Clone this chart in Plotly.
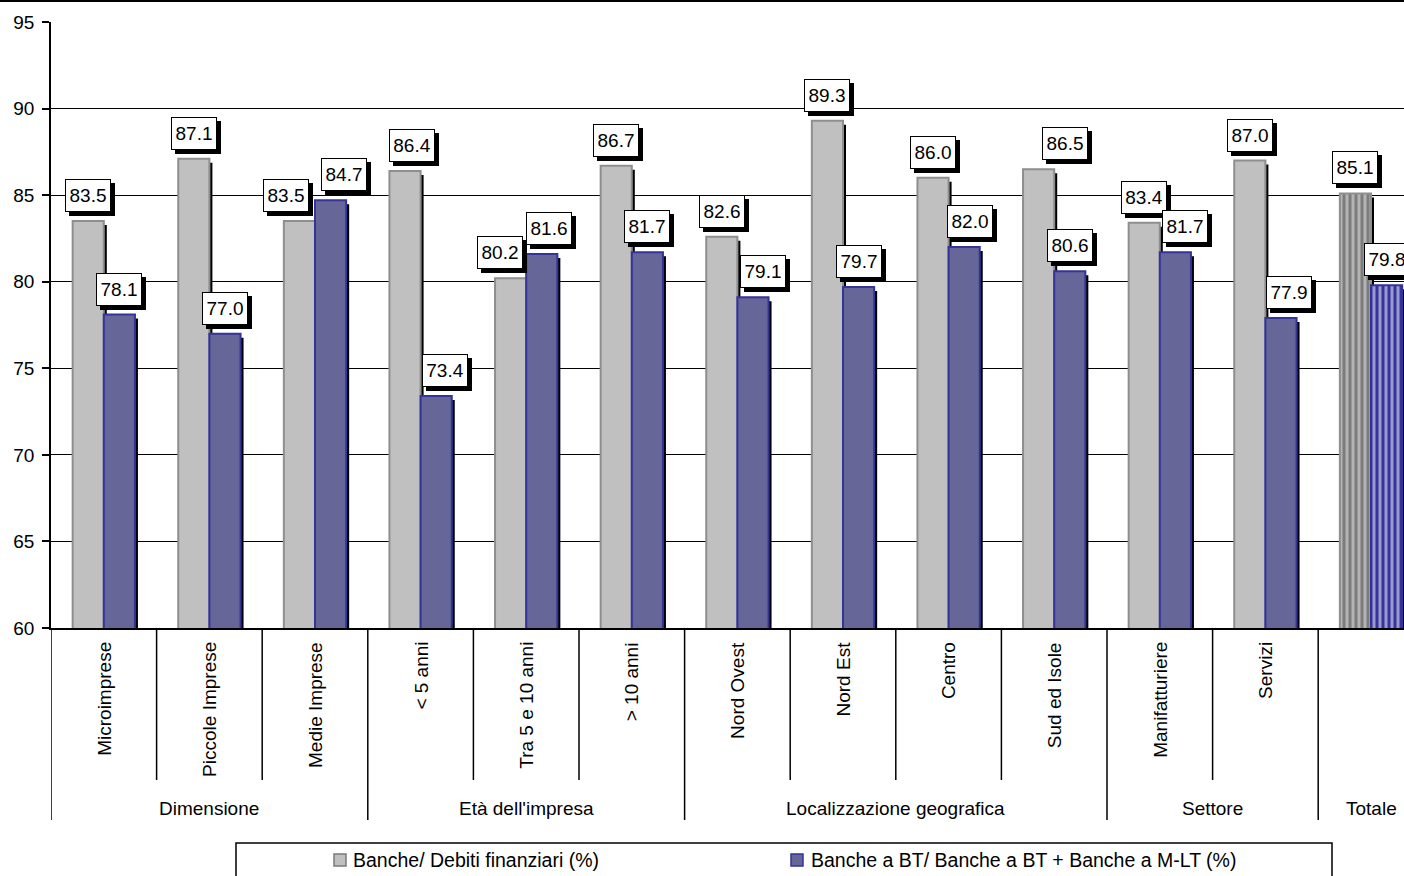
import plotly.graph_objects as go

# ---- data ----
categories = ["Microimprese", "Piccole Imprese", "Medie Imprese",
              "< 5 anni", "Tra 5 e 10 anni", "> 10 anni",
              "Nord Ovest", "Nord Est", "Centro", "Sud ed Isole",
              "Manifatturiere", "Servizi", ""]
groups = ["Dimensione", "Età dell'impresa", "Localizzazione geografica", "Settore", "Totale"]
group_sizes = [3, 3, 4, 2, 1]
series_names = ["Banche/ Debiti finanziari (%)",
                "Banche a BT/ Banche a BT + Banche a M-LT (%)"]
banche_debiti = [83.5, 87.1, 83.5, 86.4, 80.2, 86.7, 82.6, 89.3, 86.0, 86.5, 83.4, 87.0, 85.1]
banche_bt = [78.1, 77.0, 84.7, 73.4, 81.6, 81.7, 79.1, 79.7, 82.0, 80.6, 81.7, 77.9, 79.8]
y_ticks = [60, 65, 70, 75, 80, 85, 90, 95]

# ---- layout geometry (pixels) ----
W, H = 1404, 876
ML, MT, MB = 51, 22, 248
PW, PH = W - ML, H - MT - MB
GW = 105.6                      # width of one category slot
Y0, Y1 = 60, 95
X_RANGE = [-0.5, -0.5 + PW / GW]
BW = 0.295                      # bar width in category units
PX_X = 1.0 / GW                 # one pixel in x units
PX_Y = (Y1 - Y0) / PH           # one pixel in y units

FONT = "Liberation Sans, Arial, sans-serif"
GRAY, GRAY_LINE = "#c0c0c0", "#8e8e8e"
BLUE, BLUE_LINE = "#666699", "#333399"


def py(p):
    """pixel row -> paper y"""
    return (H - MB - p) / PH


def px(p):
    """pixel column -> paper x"""
    return (p - ML) / PW


n = len(categories)
xs = list(range(n))
total_idx = n - 1
stripe_shape = ["" if i != total_idx else "|" for i in xs]

fig = go.Figure()

# gray shadow, gray bars, blue shadow, blue bars
fig.add_trace(go.Bar(
    x=xs, y=[v - 4 * PX_Y for v in banche_debiti], offset=-BW + 3 * PX_X, width=BW,
    marker=dict(color="#000000", line=dict(width=0)),
    hoverinfo="skip", showlegend=False))
fig.add_trace(go.Bar(
    x=xs, y=banche_debiti, offset=-BW, width=BW, name=series_names[0],
    marker=dict(color=[GRAY] * (n - 1) + ["#b4b4b4"],
                line=dict(color=GRAY_LINE, width=2),
                pattern=dict(shape=stripe_shape, fgcolor="#f4f4f4",
                             size=6, solidity=0.5)),
    showlegend=False))
fig.add_trace(go.Bar(
    x=xs, y=[v - 4 * PX_Y for v in banche_bt], offset=3 * PX_X, width=BW,
    marker=dict(color="#000000", line=dict(width=0)),
    hoverinfo="skip", showlegend=False))
fig.add_trace(go.Bar(
    x=xs, y=banche_bt, offset=0, width=BW, name=series_names[1],
    marker=dict(color=[BLUE] * (n - 1) + ["#34349c"],
                line=dict(color=BLUE_LINE, width=2),
                pattern=dict(shape=stripe_shape, fgcolor="#ffffff",
                             size=6, solidity=0.5)),
    showlegend=False))

annotations = []
shapes = []

# value labels (boxed, with shadow); some nudged sideways to avoid overlaps
shift_gray = [0, 0, -13, 7, -11, 0, 0, 0, 0, 26, 0, 0, 0]
shift_blue = [0, 0, 13, 9, 7, 0, 10, 0, 6, 0, 10, 8, 0]
for i in xs:
    for vals, centre, dx in ((banche_debiti, i - BW / 2, shift_gray[i]),
                             (banche_bt, i + BW / 2, shift_blue[i])):
        v = vals[i]
        common = dict(x=centre, y=v, xref="x", yref="y",
                      showarrow=False, xanchor="center", yanchor="bottom",
                      width=42, height=29, borderpad=1, borderwidth=1,
                      font=dict(family=FONT, size=19, color="#000000"))
        # shadow box
        annotations.append(dict(common, text=" ", xshift=dx + 4, yshift=5,
                                bgcolor="#000000", bordercolor="#000000"))
        # label box
        annotations.append(dict(common, text=f"{v:.1f}", xshift=dx, yshift=9,
                                bgcolor="#ffffff", bordercolor="#000000"))

# category labels (rotated)
for i, name in enumerate(categories):
    if name:
        annotations.append(dict(x=i, y=py(640), xref="x", yref="paper", text=name,
                                textangle=-90, showarrow=False, xanchor="center",
                                yanchor="top",
                                font=dict(family=FONT, size=19, color="#000000")))

# group labels and separators
start = 0
group_edges = [-0.5]
for g, size in zip(groups, group_sizes):
    centre = start + (size - 1) / 2
    annotations.append(dict(x=centre, y=py(808), xref="x", yref="paper", text=g,
                            showarrow=False, xanchor="center", yanchor="middle",
                            font=dict(family=FONT, size=19, color="#000000")))
    for k in range(1, size):
        xe = start + k - 0.5
        shapes.append(dict(type="line", xref="x", yref="paper", x0=xe, x1=xe,
                           y0=0, y1=py(780), line=dict(color="#000000", width=1.5)))
    start += size
    group_edges.append(start - 0.5)
for xe in group_edges:
    shapes.append(dict(type="line", xref="x", yref="paper", x0=xe, x1=xe,
                       y0=0, y1=py(820), line=dict(color="#000000", width=1.5)))

# top border of the chart
shapes.append(dict(type="line", xref="paper", yref="paper", x0=px(0), x1=px(W),
                   y0=py(1), y1=py(1), line=dict(color="#000000", width=2)))

# legend box
shapes.append(dict(type="rect", xref="paper", yref="paper",
                   x0=px(236), x1=px(1332), y0=py(890), y1=py(843),
                   line=dict(color="#000000", width=1.5), fillcolor="#ffffff"))
for sx, tx, col, lcol, label in ((334, 351, GRAY, "#7a7a7a", series_names[0]),
                                 (791, 809, BLUE, BLUE_LINE, series_names[1])):
    shapes.append(dict(type="rect", xref="paper", yref="paper",
                       x0=px(sx), x1=px(sx + 12), y0=py(866), y1=py(854),
                       line=dict(color=lcol, width=1.5), fillcolor=col))
    annotations.append(dict(x=px(tx), y=py(860), xref="paper", yref="paper",
                            text=label, showarrow=False, xanchor="left",
                            yanchor="middle",
                            font=dict(family=FONT, size=19.5, color="#000000")))

fig.update_layout(
    width=W, height=H,
    margin=dict(l=ML, r=0, t=MT, b=MB, pad=0),
    barmode="overlay",
    paper_bgcolor="#ffffff", plot_bgcolor="#ffffff",
    showlegend=False,
    font=dict(family=FONT, size=19, color="#000000"),
    xaxis=dict(range=X_RANGE, showgrid=False, zeroline=False, showticklabels=False,
               ticks="", showline=True, linecolor="#000000", linewidth=1.5,
               fixedrange=True),
    yaxis=dict(range=[Y0, Y1], tickvals=y_ticks, showgrid=True,
               gridcolor="#000000", gridwidth=1, zeroline=False,
               showline=True, linecolor="#000000", linewidth=1.5,
               ticks="outside", ticklen=7, tickcolor="#000000", tickwidth=1.5,
               ticklabelstandoff=4,
               tickfont=dict(family=FONT, size=19, color="#000000"),
               fixedrange=True),
    annotations=annotations,
    shapes=shapes,
)

fig.write_html("out.html")
